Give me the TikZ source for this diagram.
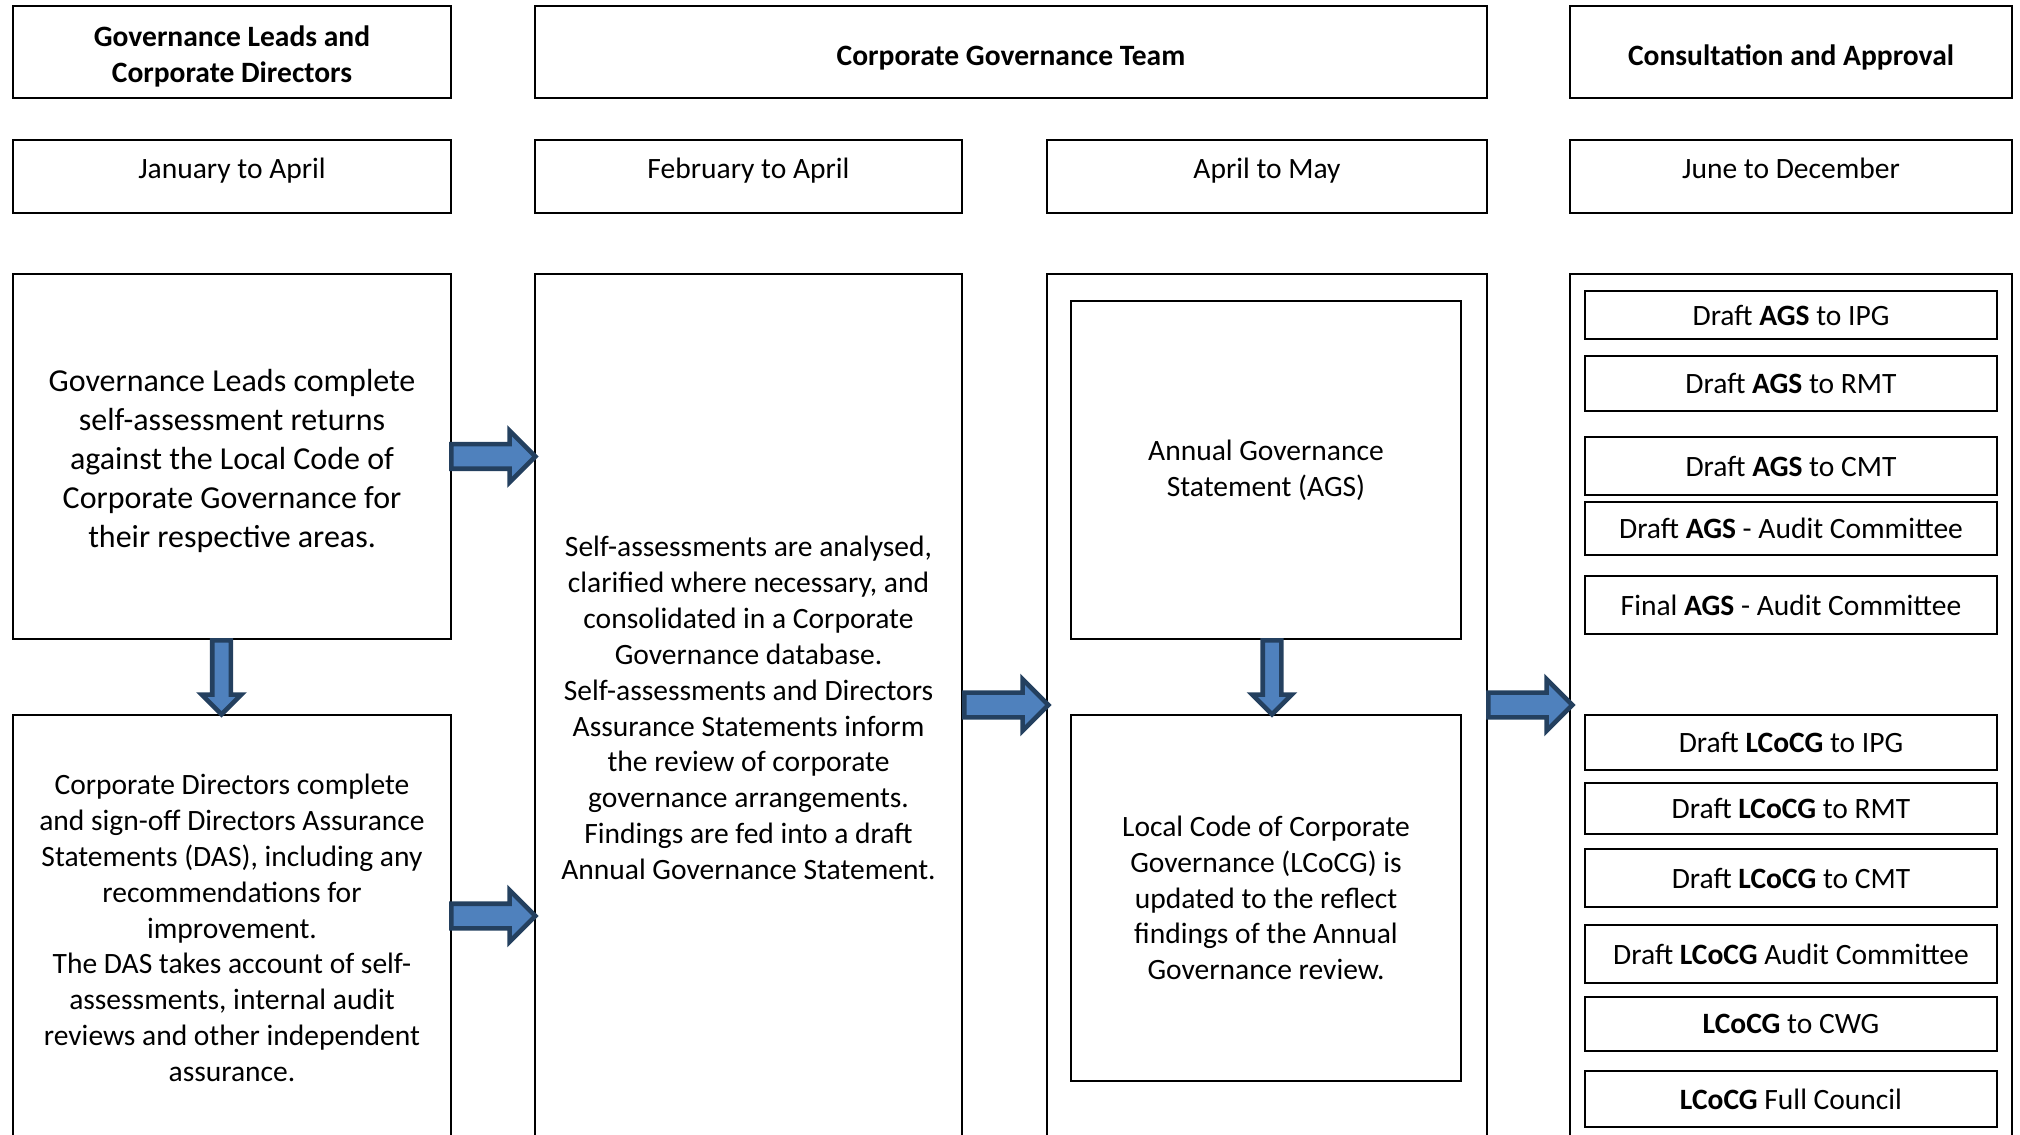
\documentclass[tikz,border=0pt]{standalone}
\usepackage{fontspec}
\setmainfont{Carlito}
\usetikzlibrary{shapes.arrows,calc}
\definecolor{arrowblue}{HTML}{4F81BD}
\definecolor{arrowedge}{HTML}{24405F}

\begin{document}
\begin{tikzpicture}[
    box/.style={draw, line width=0.6pt, align=center, inner sep=0pt},
    head/.style={box, font=\fontsize{8.4}{10.3}\selectfont\bfseries,
                 minimum height=0.916cm},
    period/.style={box, font=\fontsize{8.4}{10.3}\selectfont,
                   minimum height=0.73cm, text height=6.5pt, text depth=5.5pt},
    body/.style={box, font=\fontsize{8.4}{10.2}\selectfont},
    item/.style={box, font=\fontsize{8.4}{10.3}\selectfont,
                 minimum width=4.12cm},
    rarrow/.style={single arrow, draw=arrowedge, fill=arrowblue,
                   line width=1.3pt, inner xsep=0pt, inner ysep=0.1cm,
                   single arrow head extend=0.135cm, minimum height=0.84cm,
                   anchor=tail},
    darrow/.style={single arrow, draw=arrowedge, fill=arrowblue,
                   line width=1.3pt, inner xsep=0pt, inner ysep=0.07cm,
                   single arrow head extend=0.105cm, minimum height=0.74cm,
                   rotate=-90, anchor=tail}]

  \useasboundingbox (0,0) rectangle (20.2,-11.35);
  \clip (0,0) rectangle (20.2,-11.35);

  %% Column heads
  \node[head, minimum width=4.38cm] (glhead) at (2.32,-0.522)
    {\rule{0pt}{8.2pt}Governance Leads and\\Corporate Directors};
  \node[head, minimum width=9.52cm, text height=9.5pt, text depth=2pt]
    (cgthead) at (10.11,-0.522) {Corporate Governance Team};
  \node[head, minimum width=4.42cm, text height=9.5pt, text depth=2pt]
    (cahead) at (17.91,-0.522) {Consultation and Approval};

  %% Periods
  \node[period, minimum width=4.38cm] (jan) at (2.32,-1.765) {January to April};
  \node[period, minimum width=4.27cm] (feb) at (7.485,-1.765) {February to April};
  \node[period, minimum width=4.40cm] (apr) at (12.67,-1.765) {April to May};
  \node[period, minimum width=4.42cm] (jun) at (17.91,-1.765) {June to December};

  %% Governance Leads and Directors
  \node[box, font=\fontsize{9.1}{11.1}\selectfont, minimum width=4.38cm,
        minimum height=3.65cm] (leads) at (2.32,-4.565)
    {\rule{0pt}{8.9pt}Governance Leads complete\\self-assessment returns\\
     against the Local Code of\\Corporate Governance for\\their respective areas.};
  \node[body, minimum width=4.38cm, minimum height=4.26cm] (dirs) at (2.32,-9.28)
    {Corporate Directors complete\\and sign-off Directors Assurance\\
     Statements (DAS), including any\\recommendations for\\improvement.\\
     The DAS takes account of self-\\assessments, internal audit\\
     reviews and other independent\\assurance.};

  %% Corporate Governance Team
  \node[body, minimum width=4.27cm, minimum height=8.68cm] (analyse) at (7.485,-7.08)
    {Self-assessments are analysed,\\clarified where necessary, and\\
     consolidated in a Corporate\\Governance database.\\
     Self-assessments and Directors\\Assurance Statements inform\\
     the review of corporate\\governance arrangements.\\
     Findings are fed into a draft\\Annual Governance Statement.};
  \node[box, minimum width=4.40cm, minimum height=8.68cm] (review) at (12.67,-7.08) {};
  \node[body, minimum width=3.90cm, minimum height=3.38cm] (ags) at (12.66,-4.70)
    {Annual Governance\\Statement (AGS)};
  \node[body, minimum width=3.90cm, minimum height=3.66cm] (lcocg) at (12.66,-8.98)
    {Local Code of Corporate\\Governance (LCoCG) is\\updated to the reflect\\
     findings of the Annual\\Governance review.};

  %% Consultation and Approval
  \node[box, minimum width=4.42cm, minimum height=8.68cm] (approve) at (17.91,-7.08) {};
  \node[item, minimum height=0.48cm] (a1) at (17.91,-3.15)  {Draft \textbf{AGS} to IPG};
  \node[item, minimum height=0.55cm] (a2) at (17.91,-3.835) {Draft \textbf{AGS} to RMT};
  \node[item, minimum height=0.58cm] (a3) at (17.91,-4.66)  {Draft \textbf{AGS} to CMT};
  \node[item, minimum height=0.53cm] (a4) at (17.91,-5.285) {Draft \textbf{AGS} - Audit Committee};
  \node[item, minimum height=0.58cm] (a5) at (17.91,-6.05)  {Final \textbf{AGS} - Audit Committee};
  \node[item, minimum height=0.55cm] (l1) at (17.91,-7.425) {Draft \textbf{LCoCG} to IPG};
  \node[item, minimum height=0.51cm] (l2) at (17.91,-8.085) {Draft \textbf{LCoCG} to RMT};
  \node[item, minimum height=0.58cm] (l3) at (17.91,-8.78)  {Draft \textbf{LCoCG} to CMT};
  \node[item, minimum height=0.58cm] (l4) at (17.91,-9.54)  {Draft \textbf{LCoCG} Audit Committee};
  \node[item, minimum height=0.54cm] (l5) at (17.91,-10.24) {\textbf{LCoCG} to CWG};
  \node[item, minimum height=0.56cm] (l6) at (17.91,-10.99) {\textbf{LCoCG} Full Council};

  %% Block arrows
  \node[rarrow] (leads2analyse) at ($(leads.east)+(-0.03,0)$) {};
  \node[rarrow] (dirs2analyse) at ($(dirs.east)+(-0.03,0.12)$) {};
  \node[rarrow] (analyse2review) at ($(analyse.east)+(-0.01,0.03)$) {};
  \node[rarrow] (review2approve) at ($(review.east)+(-0.02,0.03)$) {};
  \node[darrow] (leads2dirs) at ($(leads.south)+(-0.105,0.02)$) {};
  \node[darrow] (ags2lcocg) at ($(ags.south)+(0.06,0.02)$) {};
\end{tikzpicture}
\end{document}
